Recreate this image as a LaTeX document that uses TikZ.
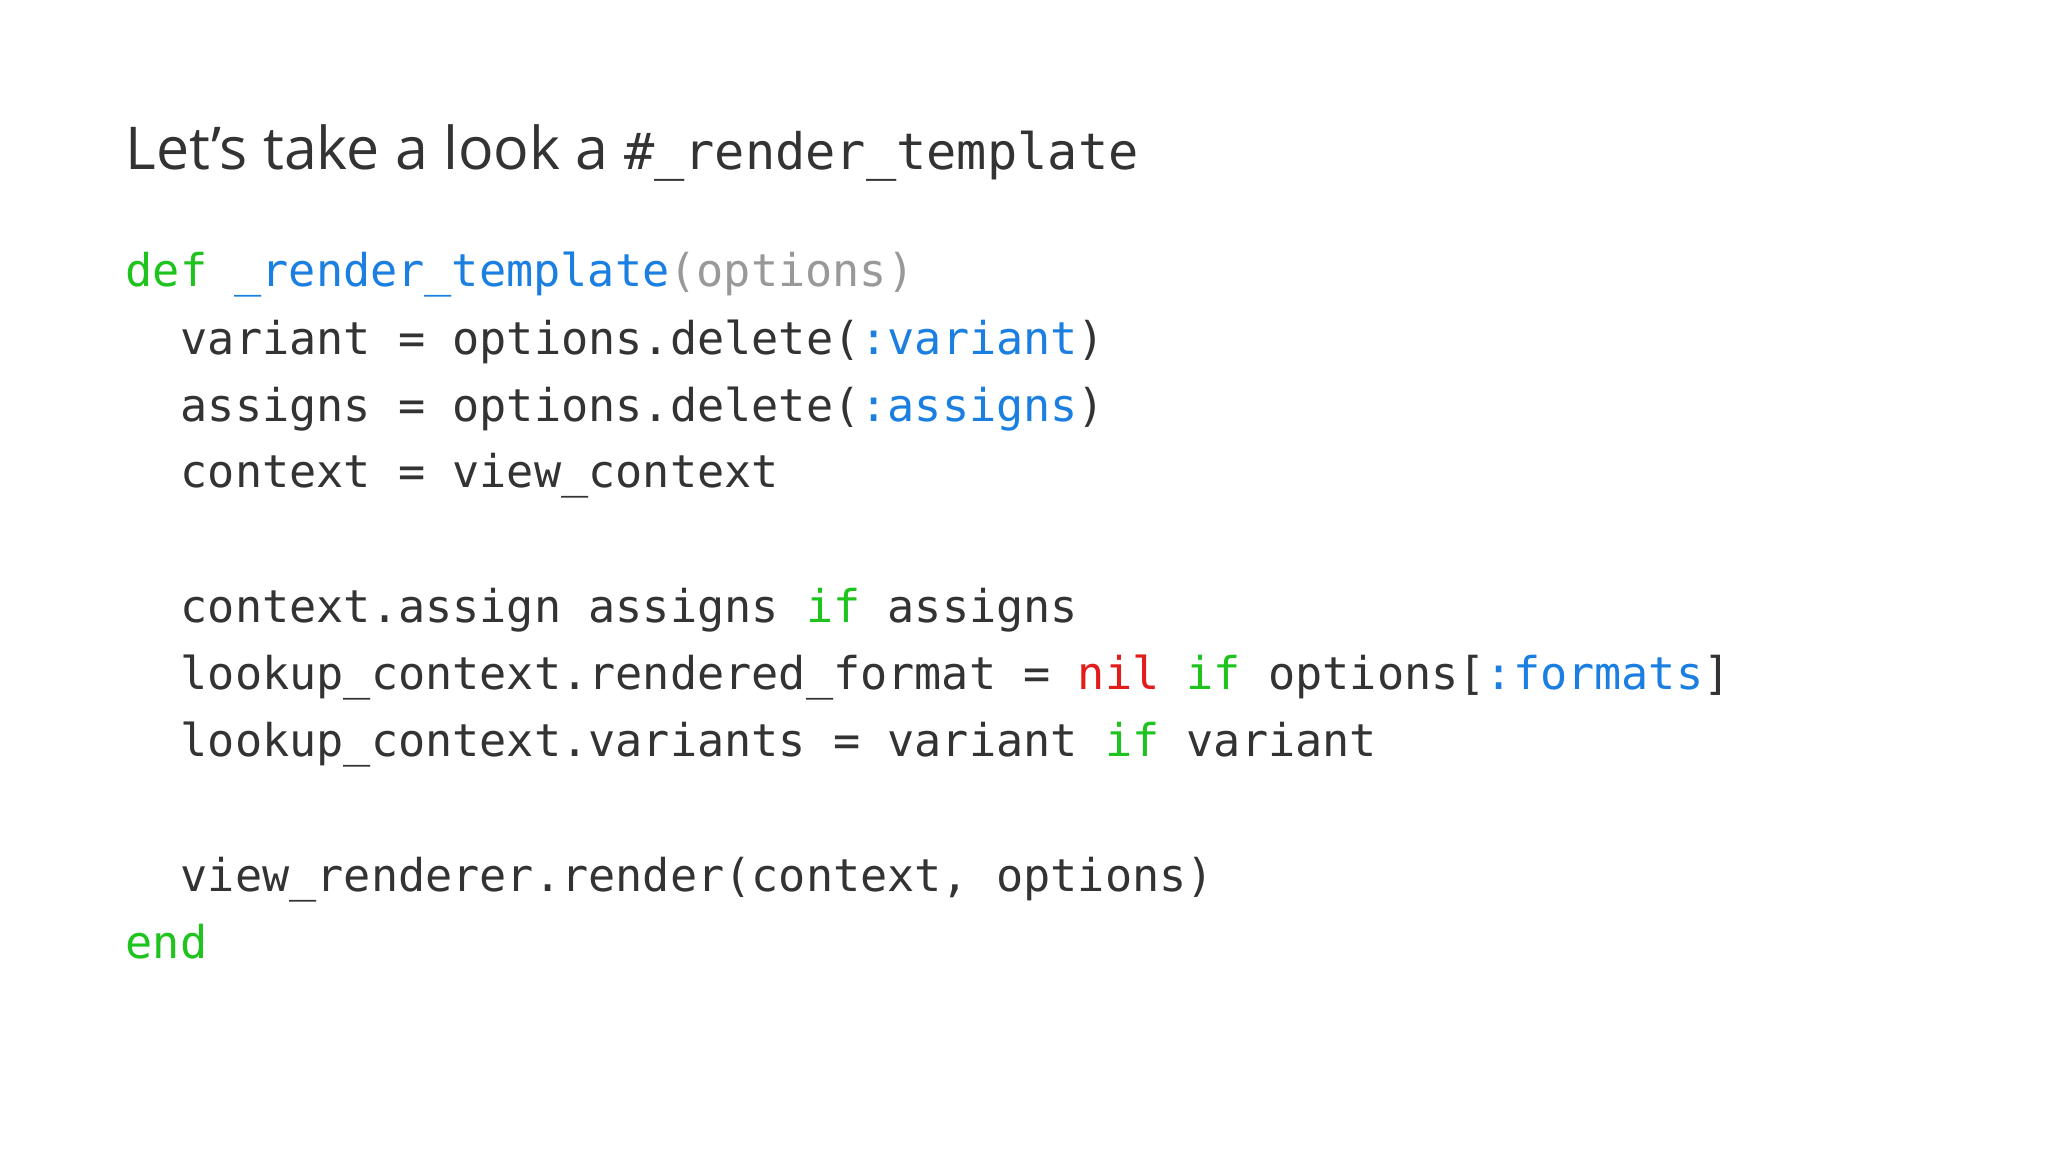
\documentclass[tikz,border=0pt]{standalone}
\usepackage{fontspec}
\setmainfont{Open Sans}
\newfontfamily\codefont{DejaVu Sans Mono}
\definecolor{tx}{HTML}{333333}
\definecolor{kw}{HTML}{1EC31E}
\definecolor{fn}{HTML}{1A7FE0}
\definecolor{gr}{HTML}{999999}
\definecolor{rd}{HTML}{E21B1B}
\begin{document}
\begin{tikzpicture}[x=1cm,y=1cm,
  code/.style={anchor=base west,inner sep=0pt,text=tx,font=\codefont\fontsize{12.85pt}{15pt}\selectfont}]
\useasboundingbox[fill=white] (0,0) rectangle (20.48,11.52);
\node[anchor=base west,inner sep=0pt,text=tx] (title) at (1.25,11.52-1.70)
  {\fontsize{16.8pt}{20pt}\selectfont Let\char39 s take a look a {\codefont\fontsize{14.3pt}{16pt}\selectfont \#\_render\_template}};
\node[code] (l1) at (1.25,11.52-2.87) {\textcolor{kw}{def} \textcolor{fn}{\_render\_template}\textcolor{gr}{(options)}};
\node[code] (l2) at (1.80,11.52-3.55) {variant = options.delete(\textcolor{fn}{:variant})};
\node[code] (l3) at (1.80,11.52-4.22) {assigns = options.delete(\textcolor{fn}{:assigns})};
\node[code] (l4) at (1.80,11.52-4.88) {context = view\_context};
\node[code] (l5) at (1.80,11.52-6.23) {context.assign assigns \textcolor{kw}{if} assigns};
\node[code] (l6) at (1.80,11.52-6.90) {lookup\_context.rendered\_format = \textcolor{rd}{nil} \textcolor{kw}{if} options[\textcolor{fn}{:formats}]};
\node[code] (l7) at (1.80,11.52-7.57) {lookup\_context.variants = variant \textcolor{kw}{if} variant};
\node[code] (l8) at (1.80,11.52-8.92) {view\_renderer.render(context, options)};
\node[code] (l9) at (1.25,11.52-9.59) {\textcolor{kw}{end}};
\end{tikzpicture}
\end{document}
